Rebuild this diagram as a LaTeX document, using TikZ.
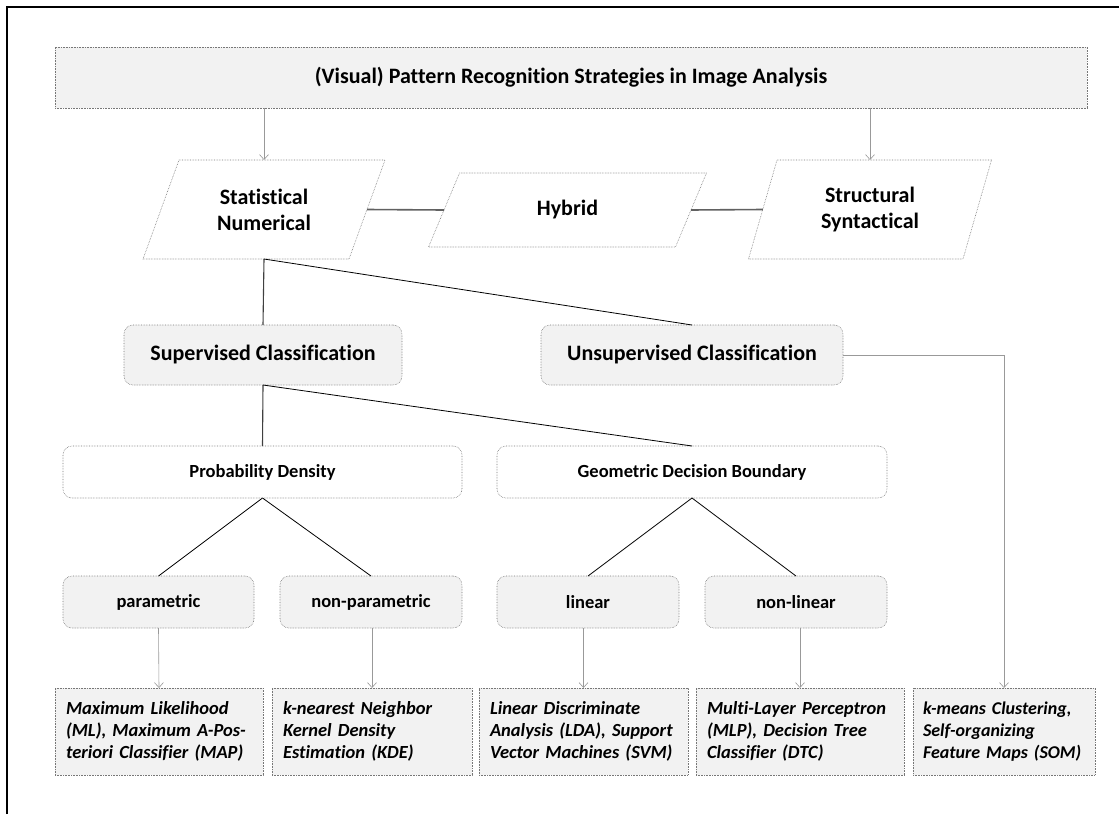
\documentclass[tikz,border=0pt]{standalone}
\usepackage{fontspec}
\setmainfont{Carlito}[Ligatures=CommonOff]
\usetikzlibrary{arrows.meta}
\definecolor{boxfill}{HTML}{F2F2F2}
\definecolor{boxline}{HTML}{777777}
\definecolor{arrline}{HTML}{999999}
\begin{document}
\begin{tikzpicture}[x=1pt,y=-1pt,
  every node/.style={inner sep=0pt,outer sep=0pt,font=\bfseries},
  boxedge/.style={draw=boxline,densely dotted,line width=0.6pt},
  headbox/.style={boxedge,fill=boxfill,rectangle},
  parabody/.style={rectangle,draw=none},
  paraedge/.style={boxedge,fill=white},
  paratext/.style={align=center,font=\bfseries\fontsize{22}{26}\selectfont},
  classbox/.style={boxedge,fill=boxfill,rounded corners=9pt,minimum height=60pt,font=\bfseries\fontsize{22}{26}\selectfont},
  familybox/.style={boxedge,fill=white,rounded corners=9pt,minimum height=52pt,font=\bfseries\fontsize{18.5}{22}\selectfont},
  kindbox/.style={boxedge,fill=boxfill,rounded corners=9pt,minimum width=182pt,minimum height=52pt,font=\bfseries\fontsize{18.5}{22}\selectfont},
  methodbox/.style={boxedge,fill=boxfill,rectangle,minimum height=87pt,inner xsep=11pt,
    align=left,font=\bfseries\itshape\fontsize{18.5}{21.7}\selectfont},
  feed/.style={draw=arrline,line width=0.6pt,-{Straight Barb[length=5pt,width=9pt,line width=0.6pt]}},
  sideline/.style={draw=black!62,line width=1.6pt},
  trunk/.style={draw=black!75,line width=1.1pt},
  branch/.style={draw=black,line width=0.8pt}]
\useasboundingbox (0,0) rectangle (1119,814);

% outer frame (top and left edges)
\draw[line width=1.5pt] (7,814) -- (7,7) -- (1119,7);

% title
\node[headbox,minimum width=1032pt,minimum height=61pt,font=\bfseries\fontsize{22}{26}\selectfont]
  (title) at (571,77.5) {(Visual) Pattern Recognition Strategies in Image Analysis};

% the three approaches, drawn as parallelograms around rectangular bodies
\node[parabody,minimum width=206pt,minimum height=99pt] (stat) at (264,209.5) {};
\draw[paraedge] ([xshift=18pt]stat.north west) -- ([xshift=18pt]stat.north east)
  -- ([xshift=-18pt]stat.south east) -- ([xshift=-18pt]stat.south west) -- cycle;
\node[paratext] (stattext) at (stat.center) {Statistical\\Numerical};

\node[parabody,minimum width=247pt,minimum height=74pt] (hybrid) at (567.5,210) {};
\draw[paraedge] ([xshift=15.5pt]hybrid.north west) -- ([xshift=15.5pt]hybrid.north east)
  -- ([xshift=-15.5pt]hybrid.south east) -- ([xshift=-15.5pt]hybrid.south west) -- cycle;
\node[paratext] (hybridtext) at (hybrid.center) {Hybrid};

\node[parabody,minimum width=214.5pt,minimum height=99pt] (struct) at (870,209.5) {};
\draw[paraedge] ([xshift=14.25pt]struct.north west) -- ([xshift=14.25pt]struct.north east)
  -- ([xshift=-14.25pt]struct.south east) -- ([xshift=-14.25pt]struct.south west) -- cycle;
\node[paratext] (structtext) at (struct.center) {Structural\\Syntactical};

% classification level
\node[classbox,minimum width=278pt] (sup) at (263,355) {Supervised Classification};
\node[classbox,minimum width=302pt] (unsup) at (692,355) {Unsupervised Classification};

% decision families
\node[familybox,minimum width=399pt] (prob) at (262.5,472) {Probability Density};
\node[familybox,minimum width=390pt] (geom) at (692,472) {Geometric Decision Boundary};

% model kinds
\node[kindbox,minimum width=191pt] (param) at (158.5,602) {parametric};
\node[kindbox] (nonparam) at (371,602) {non-parametric};
\node[kindbox] (lin) at (588,602) {linear};
\node[kindbox] (nonlin) at (796,602) {non-linear};

% example methods
\node[methodbox,text width=186pt] (ml) at (159,731.5)
  {Maximum Likelihood\\(ML), Maximum A-Pos-\\teriori Classifier (MAP)};
\node[methodbox,text width=178pt] (kde) at (372,731.5)
  {k-nearest Neighbor\\Kernel Density\\Estimation (KDE)};
\node[methodbox,text width=187pt] (lda) at (583.5,731.5)
  {Linear Discriminate\\Analysis (LDA), Support\\Vector Machines (SVM)};
\node[methodbox,text width=186pt] (mlp) at (800,731.5)
  {Multi-Layer Perceptron\\(MLP), Decision Tree\\Classifier (DTC)};
\node[methodbox,inner xsep=10pt,text width=162pt,font=\bfseries\itshape\fontsize{18}{21.7}\selectfont] (som) at (1004,731.5)
  {\mbox{k-means Clustering,}\\\mbox{Self-organizing}\\\mbox{Feature Maps (SOM)}};

% connectors
\draw[feed] (title.south -| stat.north) -- (stat.north);
\draw[feed] (title.south -| struct.north) -- (struct.north);
\draw[sideline] (stat.east) -- (hybrid.west);
\draw[sideline] (hybrid.east) -- (struct.west);

\draw[trunk] (stat.south) -- (sup.north);
\draw[branch] (stat.south) -- (unsup.north);
\draw[trunk] (sup.south) -- (prob.north);
\draw[branch] (sup.south) -- (geom.north);

\draw[branch] (prob.south) -- (param.north);
\draw[branch] (prob.south) -- (nonparam.north);
\draw[branch] (geom.south) -- (lin.north);
\draw[branch] (geom.south) -- (nonlin.north);

\draw[feed] (param.south) -- (ml.north);
\draw[feed] (nonparam.south -| kde.north) -- (kde.north);
\draw[feed] (lin.south -| lda.north) -- (lda.north);
\draw[feed] (nonlin.south -| mlp.north) -- (mlp.north);
\draw[feed] (unsup.east) -- (unsup.east -| som.north) -- (som.north);
\end{tikzpicture}
\end{document}
